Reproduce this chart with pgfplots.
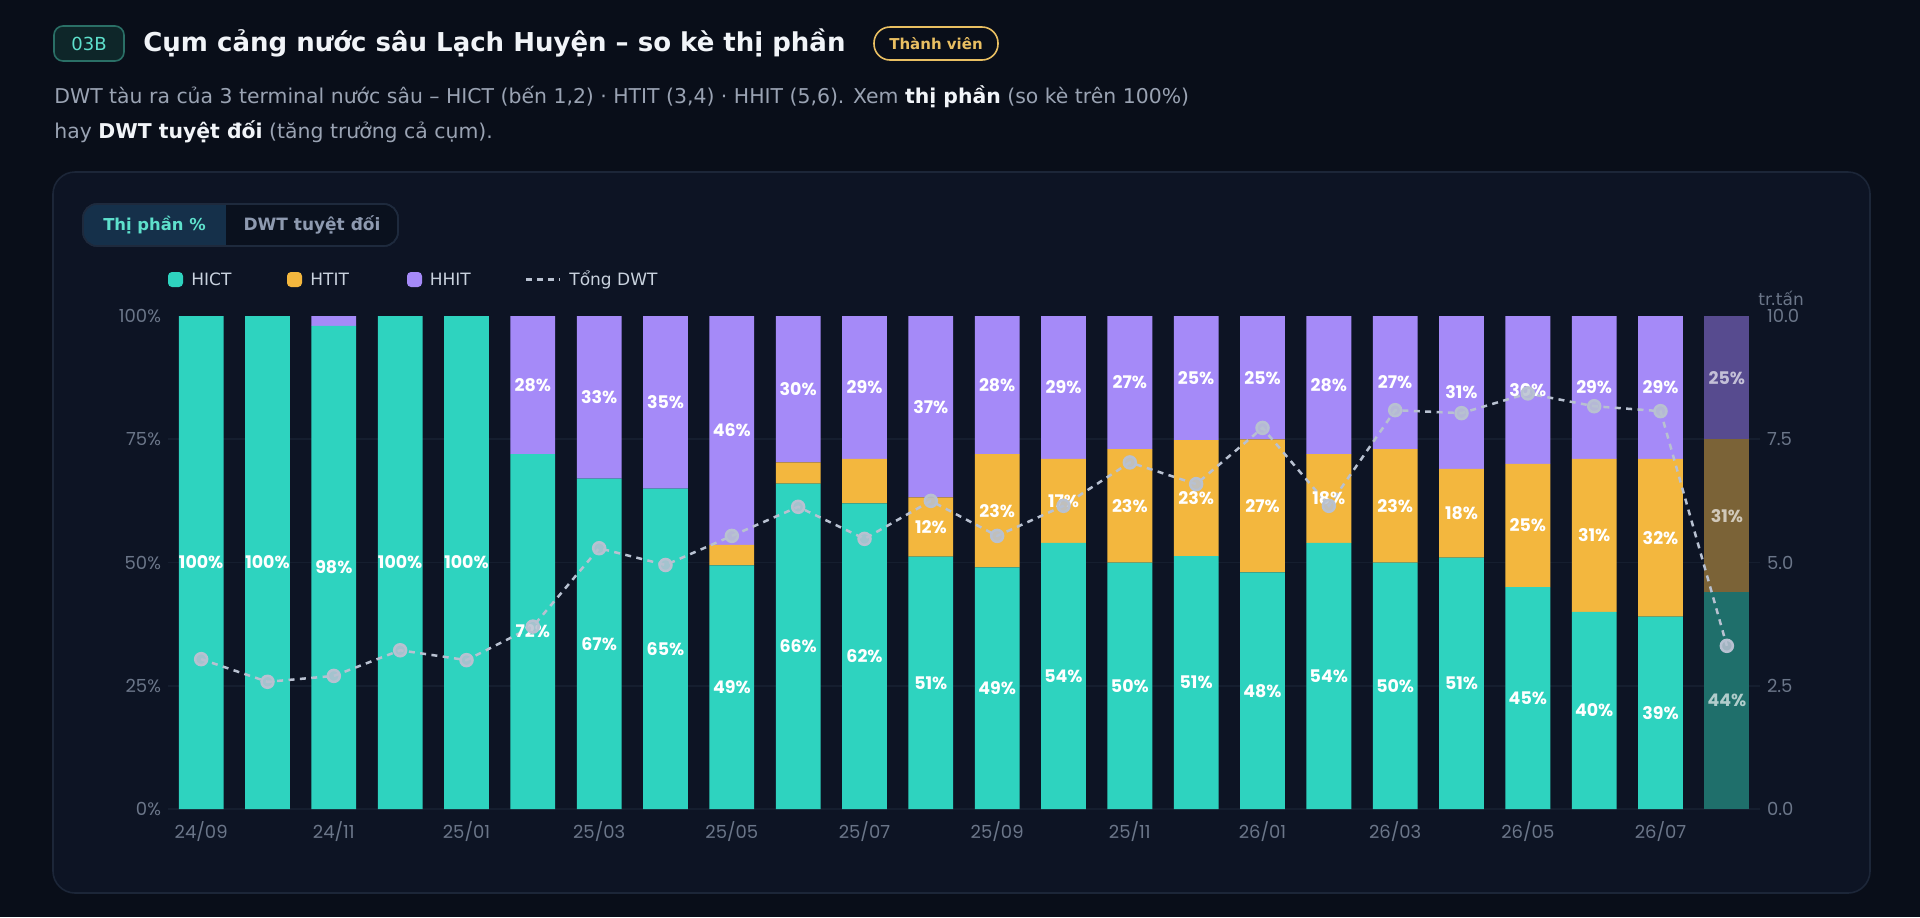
\documentclass[border=0pt]{standalone}
\usepackage{fontspec}
\setmainfont{DejaVu Sans}
\newfontfamily\pop{Poppins}
\usepackage{pgfplots}
\pgfplotsset{compat=1.18}
\usepackage{pgfplotstable}

\definecolor{pagebg}{HTML}{090E19}
\definecolor{cardbg}{HTML}{0D1424}
\definecolor{cardbd}{HTML}{1C2638}
\definecolor{gridc}{HTML}{151E2F}
\definecolor{tickc}{HTML}{6B7689}
\definecolor{hict}{HTML}{2ED3BF}
\definecolor{htit}{HTML}{F3B73E}
\definecolor{hhit}{HTML}{A58AF8}
\definecolor{dhict}{HTML}{1F6F6B}
\definecolor{dhtit}{HTML}{7B6337}
\definecolor{dhhit}{HTML}{574B8F}
\definecolor{linec}{HTML}{B8C1D1}
\definecolor{subt}{HTML}{9AA3B3}
\definecolor{titlec}{HTML}{F1F4F8}
\definecolor{tealt}{HTML}{5EE0CC}
\definecolor{gold}{HTML}{E9BF62}
\definecolor{badgebg}{HTML}{0E2629}
\definecolor{badgebd}{HTML}{2A6F66}
\definecolor{togbg}{HTML}{0A111E}
\definecolor{togbd}{HTML}{1E2A3D}
\definecolor{togact}{HTML}{15304A}
\definecolor{togtxt}{HTML}{8E9AB0}
\definecolor{legtxt}{HTML}{C9D2DE}

\pgfplotstableread{
x hict htit hhit dhict dhtit dhhit
0 100 0 0 0 0 0
1 100 0 0 0 0 0
2 98 0 2 0 0 0
3 100 0 0 0 0 0
4 100 0 0 0 0 0
5 72 0 28 0 0 0
6 67 0 33 0 0 0
7 65 0 35 0 0 0
8 49.4 4.2 46.4 0 0 0
9 66 4.3 29.7 0 0 0
10 62 9 29 0 0 0
11 51.2 12 36.8 0 0 0
12 49 23 28 0 0 0
13 54 17 29 0 0 0
14 50 23 27 0 0 0
15 51.3 23.5 25.2 0 0 0
16 48 27 25 0 0 0
17 54 18 28 0 0 0
18 50 23 27 0 0 0
19 51 18 31 0 0 0
20 45 25 30 0 0 0
21 40 31 29 0 0 0
22 39 32 29 0 0 0
23 0 0 0 44 31 25
}\shares

% label positions (on the 0-10 scale of the right axis) and printed shares
\pgfplotstableread{
x y v
0 5.0 100
1 5.0 100
2 4.9 98
3 5.0 100
4 5.0 100
5 3.6 72
5 8.6 28
6 3.35 67
6 8.35 33
7 3.25 65
7 8.25 35
8 2.47 49
8 7.68 46
9 3.3 66
9 8.515 30
10 3.1 62
10 8.55 29
11 2.56 51
11 5.72 12
11 8.16 37
12 2.45 49
12 6.05 23
12 8.6 28
13 2.7 54
13 6.25 17
13 8.55 29
14 2.5 50
14 6.15 23
14 8.65 27
15 2.565 51
15 6.305 23
15 8.74 25
16 2.4 48
16 6.15 27
16 8.75 25
17 2.7 54
17 6.3 18
17 8.6 28
18 2.5 50
18 6.15 23
18 8.65 27
19 2.55 51
19 6.0 18
19 8.45 31
20 2.25 45
20 5.75 25
20 8.5 30
21 2.0 40
21 5.55 31
21 8.55 29
22 1.95 39
22 5.5 32
22 8.55 29
}\labels

\pgfplotstableread{
x y v
23 2.2 44
23 5.95 31
23 8.75 25
}\dimlabels

% total DWT, million tonnes
\pgfplotstableread{
x t
0 3.04
1 2.58
2 2.70
3 3.22
4 3.02
5 3.70
6 5.29
7 4.95
8 5.54
9 6.13
10 5.48
11 6.25
12 5.54
13 6.15
14 7.03
15 6.59
16 7.73
17 6.15
18 8.09
19 8.03
20 8.43
21 8.17
22 8.07
23 3.31
}\dwt

\begin{document}
\begin{tikzpicture}
\begin{scope}[x=0.5pt,y=-0.5pt]
\useasboundingbox (0,0) rectangle (1920,917);
\fill[pagebg] (0,0) rectangle (1920,917);
% header
\draw[draw=badgebd, fill=badgebg, line width=0.8pt, rounded corners=4.5pt] (54,26) rectangle (124,61);
\node[text=tealt, font=\fontsize{9}{10}\selectfont, inner sep=0pt] at (89,43.5) {03B};
\node[anchor=west, inner sep=0pt, text=titlec, font=\bfseries\fontsize{13}{15}\selectfont] at (143,43) {Cụm cảng nước sâu Lạch Huyện – so kè thị phần};
\draw[draw=gold, line width=0.8pt, rounded corners=8pt] (874,27) rectangle (998,60);
\node[text=gold, inner sep=0pt, font=\bfseries\fontsize{7.5}{9}\selectfont] at (936,43.5) {Thành viên};
\node[anchor=west, inner sep=0pt, text=subt, font=\fontsize{10.2}{12}\selectfont] at (54,97) {DWT tàu ra của 3 terminal nước sâu – HICT (bến 1,2) · HTIT (3,4) · HHIT (5,6). Xem {\color{titlec}\bfseries thị phần} (so kè trên 100\%)};
\node[anchor=west, inner sep=0pt, text=subt, font=\fontsize{10.2}{12}\selectfont] at (54,132) {hay {\color{titlec}\bfseries DWT tuyệt đối} (tăng trưởng cả cụm).};
% card
\draw[draw=cardbd, fill=cardbg, line width=0.8pt, rounded corners=11pt] (53,172) rectangle (1870,893);
% toggle
\draw[draw=togbd, fill=togbg, line width=0.8pt, rounded corners=7pt] (83,204) rectangle (398,246);
\fill[togact, rounded corners=7pt] (83.5,204.5) rectangle (240,245.5);
\fill[togbg] (226,204.5) rectangle (241,245.5);
\draw[draw=togbd, line width=0.8pt, rounded corners=7pt] (83,204) rectangle (398,246);
\node[text=tealt, inner sep=0pt, font=\bfseries\fontsize{8.2}{10}\selectfont] at (154.5,225) {Thị phần \%};
\node[text=togtxt, inner sep=0pt, font=\bfseries\fontsize{8.5}{10}\selectfont] at (312,225) {DWT tuyệt đối};
% legend
\fill[hict, rounded corners=2pt] (168,272) rectangle (183,287);
\node[anchor=west, inner sep=0pt, text=legtxt, font=\fontsize{8.5}{10}\selectfont] at (191,279.5) {HICT};
\fill[htit, rounded corners=2pt] (287,272) rectangle (302,287);
\node[anchor=west, inner sep=0pt, text=legtxt, font=\fontsize{8.5}{10}\selectfont] at (310,279.5) {HTIT};
\fill[hhit, rounded corners=2pt] (407,272) rectangle (422,287);
\node[anchor=west, inner sep=0pt, text=legtxt, font=\fontsize{8.5}{10}\selectfont] at (429.5,279.5) {HHIT};
\draw[linec, line width=1.2pt, dash pattern=on 3pt off 2.5pt] (526,279.5) -- (560,279.5);
\node[anchor=west, inner sep=0pt, text=legtxt, font=\fontsize{8.5}{10}\selectfont] at (569,279.5) {Tổng DWT};
\node[anchor=west, inner sep=0pt, text=tickc, font=\fontsize{8.5}{10}\selectfont] at (1758,298) {tr.tấn};
\end{scope}

\begin{axis}[
  at={(84pt,-404.5pt)}, anchor=south west,
  width=796pt, height=246.5pt, scale only axis,
  xmin=-0.5, xmax=23.5, ymin=0, ymax=100,
  ybar stacked, bar width=22.4pt,
  axis line style={draw=none},
  tick style={draw=none},
  ytick={0,25,50,75,100},
  yticklabels={0\%,25\%,50\%,75\%,100\%},
  xtick={0,2,...,22},
  xticklabels={24/09,24/11,25/01,25/03,25/05,25/07,25/09,25/11,26/01,26/03,26/05,26/07},
  tick label style={font=\pop\fontsize{9}{10}\selectfont, text=tickc},
  xticklabel style={yshift=-2.5pt},
  extra y ticks={0,25,50,75}, extra y tick labels={},
  extra y tick style={grid=major, major grid style={draw=gridc, line width=0.8pt}},
]
\addplot[fill=hict, draw=none] table[x=x,y=hict]{\shares};
\addplot[fill=htit, draw=none] table[x=x,y=htit]{\shares};
\addplot[fill=hhit, draw=none] table[x=x,y=hhit]{\shares};
\addplot[fill=dhict, draw=none] table[x=x,y=dhict]{\shares};
\addplot[fill=dhtit, draw=none] table[x=x,y=dhtit]{\shares};
\addplot[fill=dhhit, draw=none] table[x=x,y=dhhit]{\shares};
\end{axis}

\begin{axis}[
  at={(84pt,-404.5pt)}, anchor=south west,
  width=796pt, height=246.5pt, scale only axis,
  xmin=-0.5, xmax=23.5, ymin=0, ymax=10,
  hide x axis,
  axis y line*=right,
  axis line style={draw=none},
  tick style={draw=none},
  /pgf/number format/assume math mode=true,
  ytick={0,2.5,5,7.5,10},
  yticklabel style={/pgf/number format/fixed, /pgf/number format/fixed zerofill, /pgf/number format/precision=1},
  yticklabel style={/tikz/anchor=west, /tikz/font=\pop\fontsize{9}{10}\selectfont, /tikz/text=tickc},
  clip=false,
]
\addplot[draw=none, mark=none, point meta=explicit,
  nodes near coords={\pgfmathprintnumber[fixed,precision=0,assume math mode=true]{\pgfplotspointmeta}\%},
  nodes near coords align={center},
  every node near coord/.append style={anchor=center, text=white, font=\pop\bfseries\fontsize{8.7}{10}\selectfont}]
  table[x=x,y=y,meta=v]{\labels};
\addplot[draw=none, mark=none, point meta=explicit,
  nodes near coords={\pgfmathprintnumber[fixed,precision=0,assume math mode=true]{\pgfplotspointmeta}\%},
  nodes near coords align={center},
  every node near coord/.append style={anchor=center, text=white, text opacity=0.65, font=\pop\bfseries\fontsize{8.7}{10}\selectfont}]
  table[x=x,y=y,meta=v]{\dimlabels};
\addplot[linec, line width=1.25pt, dash pattern=on 3pt off 2.7pt, mark=*, mark size=3pt,
  mark options={solid, fill=linec, draw=none, fill opacity=0.85}]
  table[x=x,y=t]{\dwt};
\end{axis}
\end{tikzpicture}
\end{document}
